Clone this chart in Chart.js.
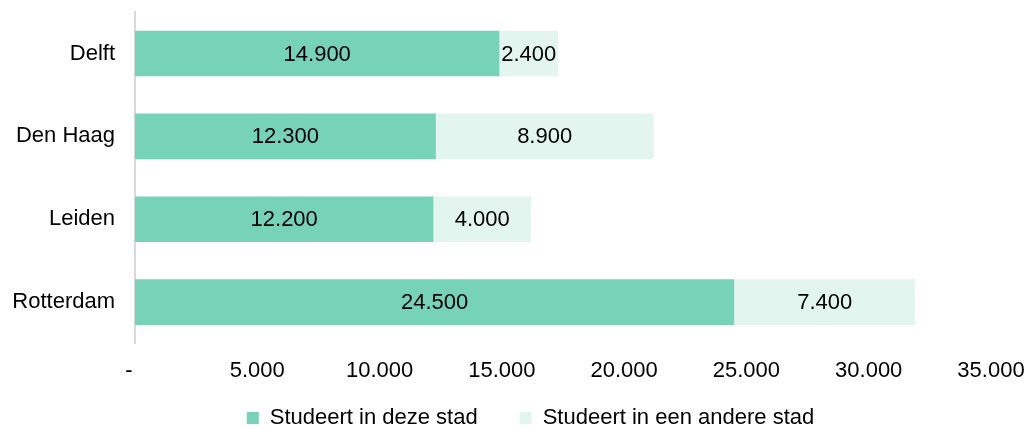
<!DOCTYPE html>
<html>
<head>
<meta charset="utf-8">
<script src="https://cdn.jsdelivr.net/npm/chart.js@4/dist/chart.umd.min.js"></script>
<style>
  html, body { margin: 0; padding: 0; background: #fff; }
  #wrap { width: 1028px; height: 429px; }
</style>
</head>
<body>
<div id="wrap"><canvas id="grafiek"></canvas></div>
<script>
// Steden en aantallen studenten
const steden = ['Delft', 'Den Haag', 'Leiden', 'Rotterdam'];
const inDezeStad = [14900, 12300, 12200, 24500];
const inAndereStad = [2400, 8900, 4000, 7400];
const xTicks = [0, 5000, 10000, 15000, 20000, 25000, 30000, 35000];

const lettertype = 'Arimo, "Liberation Sans", Arial, Helvetica, sans-serif';
const tekstGrootte = 22;

// Getal met punt als duizendtal-scheiding, 0 wordt "-" (boekhoudnotatie)
function formatGetal(v) {
  if (v === 0) return '-  ';
  return String(v).replace(/\B(?=(\d{3})+(?!\d))/g, '.');
}

// Labels midden in elk balkdeel tekenen
const balkLabels = {
  id: 'balkLabels',
  afterDatasetsDraw(chart) {
    const ctx = chart.ctx;
    ctx.save();
    ctx.font = tekstGrootte + 'px ' + lettertype;
    ctx.fillStyle = '#000';
    ctx.textAlign = 'center';
    ctx.textBaseline = 'middle';
    chart.data.datasets.forEach((ds, i) => {
      chart.getDatasetMeta(i).data.forEach((bar, j) => {
        const p = bar.getProps(['x', 'y', 'base'], true);
        ctx.fillText(formatGetal(ds.data[j]), (p.x + p.base) / 2, p.y + 1);
      });
    });
    ctx.restore();
  }
};

// Legenda iets verschuiven, zoals in het origineel
const legendaVerschuiving = {
  id: 'legendaVerschuiving',
  afterLayout(chart) {
    chart.legend.left += 35;
    chart.legend.right += 35;
    chart.legend.top -= 33;
    chart.legend.bottom -= 33;
  }
};

new Chart(document.getElementById('grafiek'), {
  type: 'bar',
  data: {
    labels: steden,
    datasets: [
      {
        label: 'Studeert in deze stad',
        data: inDezeStad,
        backgroundColor: '#76d3b8',
        categoryPercentage: 1,
        barPercentage: 0.55
      },
      {
        label: 'Studeert in een andere stad',
        data: inAndereStad,
        backgroundColor: '#e2f5ee',
        categoryPercentage: 1,
        barPercentage: 0.55
      }
    ]
  },
  options: {
    indexAxis: 'y',
    responsive: true,
    maintainAspectRatio: false,
    animation: false,
    layout: { padding: { top: 12, right: 37, left: 0, bottom: -43 } },
    scales: {
      x: {
        stacked: true,
        min: 0,
        max: 35000,
        afterBuildTicks: (axis) => { axis.ticks = xTicks.map(v => ({ value: v })); },
        afterFit: (axis) => {
          axis.paddingLeft = 0;
          axis.paddingRight = 0;
        },
        grid: { display: false, drawTicks: false },
        border: { display: false },
        ticks: {
          color: '#000',
          font: { family: lettertype, size: tekstGrootte },
          padding: 14,
          maxRotation: 0,
          callback: (v) => formatGetal(v)
        }
      },
      y: {
        stacked: true,
        afterFit: (axis) => {
          axis.width = 135;
          axis.paddingTop = 0;
          axis.paddingBottom = 0;
        },
        grid: { display: false },
        border: { display: true, color: '#d9d9d9', width: 2 },
        ticks: {
          color: '#000',
          font: { family: lettertype, size: tekstGrootte },
          padding: 12
        }
      }
    },
    plugins: {
      legend: {
        position: 'bottom',
        labels: {
          color: '#000',
          font: { family: lettertype, size: tekstGrootte },
          boxWidth: 12,
          boxHeight: 12,
          padding: 42
        }
      },
      tooltip: { enabled: false }
    }
  },
  plugins: [balkLabels, legendaVerschuiving]
});
</script>
</body>
</html>
